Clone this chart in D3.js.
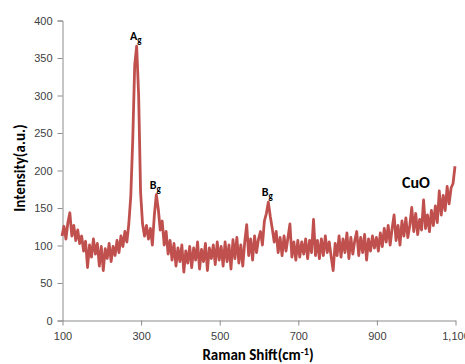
<!DOCTYPE html>
<html>
<head>
<meta charset="utf-8">
<script src="https://cdn.jsdelivr.net/npm/d3@7"></script>
<style>
  html, body { margin: 0; padding: 0; background: #fff; }
  svg { display: block; font-family: Carlito, Lato, "Open Sans", sans-serif; }
</style>
</head>
<body>
<svg id="chart" width="465" height="364"></svg>
<script>
// Raman spectrum of CuO: shift (cm^-1) and measured intensity (a.u.)
const ramanShift = [
  100,105,110,115,120,125,130,135,140,145,150,155,160,165,170,175,180,185,190,195,
  200,205,210,215,220,225,230,235,240,245,250,255,260,265,270,275,280,285,290,295,
  300,305,310,315,320,325,330,335,340,345,350,355,360,365,370,375,380,385,390,395,
  400,405,410,415,420,425,430,435,440,445,450,455,460,465,470,475,480,485,490,495,
  500,505,510,515,520,525,530,535,540,545,550,555,560,565,570,575,580,585,590,595,
  600,605,610,615,620,625,630,635,640,645,650,655,660,665,670,675,680,685,690,695,
  700,705,710,715,720,725,730,735,740,745,750,755,760,765,770,775,780,785,790,795,
  800,805,810,815,820,825,830,835,840,845,850,855,860,865,870,875,880,885,890,895,
  900,905,910,915,920,925,930,935,940,945,950,955,960,965,970,975,980,985,990,995,
  1000,1005,1010,1015,1020,1025,1030,1035,1040,1045,1050,1055,1060,1065,1070,1075,1080,1085,1090,1095,1100
];
const intensity = [
  112,125,108,130,143,112,126,106,120,102,112,92,105,70,100,84,108,88,102,72,
  98,66,95,82,102,78,98,86,106,90,112,98,118,104,128,165,240,340,365,300,
  170,128,112,126,108,122,100,140,167,148,120,132,100,118,88,106,80,102,72,96,
  78,100,64,92,76,98,70,96,80,104,68,94,78,102,66,96,82,100,74,104,
  80,98,72,104,78,100,68,107,82,110,76,100,72,104,127,86,108,80,112,90,
  108,118,100,132,142,157,138,122,104,118,90,110,86,112,92,110,128,84,104,80,
  106,84,104,88,108,82,106,90,134,86,106,82,108,86,112,90,104,84,66,102,
  86,112,84,108,90,116,82,110,88,106,118,86,110,90,114,80,108,92,112,96,
  110,92,116,98,122,104,126,100,122,140,106,126,100,132,112,136,110,126,150,118,
  142,114,134,120,160,122,140,118,146,126,152,130,172,140,166,146,178,155,176,182,205
];
const xTicks = [100, 300, 500, 700, 900, 1100];
const yTicks = [0, 50, 100, 150, 200, 250, 300, 350, 400];
const peakLabels = [
  { text: "A", sub: "g", shift: 290, value: 365 },
  { text: "B", sub: "g", shift: 340, value: 167 },
  { text: "B", sub: "g", shift: 625, value: 157 }
];
const sampleName = "CuO";

const svg = d3.select("#chart");
const axisColor = "#8c8c8c";
const lineColor = "#c0504d";

const x = d3.scaleLinear().domain([100, 1100]).range([62, 455]);
const y = d3.scaleLinear().domain([0, 400]).range([320, 20]);

// y axis
const yAxis = svg.append("g")
  .attr("transform", "translate(62.5,0.5)")
  .call(d3.axisLeft(y).tickValues(yTicks).tickSize(5).tickPadding(5));
yAxis.select(".domain").attr("stroke", axisColor);
yAxis.selectAll(".tick line").attr("stroke", axisColor);
yAxis.selectAll(".tick text").attr("fill", "#404040").style("font-size", "11px");

// x axis
const xAxis = svg.append("g")
  .attr("transform", "translate(0.5,320.5)")
  .call(d3.axisBottom(x).tickValues(xTicks).tickSize(5).tickPadding(7).tickSizeOuter(0));
xAxis.select(".domain").attr("stroke", axisColor);
xAxis.selectAll(".tick line").attr("stroke", axisColor);
xAxis.selectAll(".tick text").attr("fill", "#404040").style("font-size", "11px");

// spectrum
const line = d3.line()
  .x((d, i) => x(ramanShift[i]))
  .y(d => y(d));
svg.append("path")
  .datum(intensity)
  .attr("d", line)
  .attr("fill", "none")
  .attr("stroke", lineColor)
  .attr("stroke-width", 2.8)
  .attr("stroke-linejoin", "round");

// peak labels with subscripts
peakLabels.forEach(p => {
  const t = svg.append("text")
    .attr("x", x(p.shift) - 1)
    .attr("y", y(p.value) - 6)
    .attr("text-anchor", "middle")
    .attr("font-weight", "bold")
    .attr("font-size", "12px")
    .attr("fill", "#000");
  t.append("tspan").text(p.text);
  t.append("tspan").attr("dy", 3).attr("font-size", "9px").text(p.sub);
});

// sample name
svg.append("text")
  .attr("x", 416).attr("y", 188)
  .attr("text-anchor", "middle")
  .attr("font-weight", "bold")
  .attr("font-size", "16px")
  .attr("fill", "#000")
  .text(sampleName);

// axis titles
const xTitle = svg.append("text")
  .attr("x", 258).attr("y", 360)
  .attr("text-anchor", "middle")
  .attr("font-weight", "bold")
  .attr("font-size", "15px")
  .attr("fill", "#000");
xTitle.append("tspan").text("Raman Shift(cm");
xTitle.append("tspan").attr("dy", -5).attr("font-size", "10px").text("-1");
xTitle.append("tspan").attr("dy", 5).text(")");

svg.append("text")
  .attr("transform", "translate(25,168) rotate(-90)")
  .attr("text-anchor", "middle")
  .attr("font-weight", "bold")
  .attr("font-size", "15px")
  .attr("fill", "#000")
  .text("Intensity(a.u.)");
</script>
</body>
</html>
